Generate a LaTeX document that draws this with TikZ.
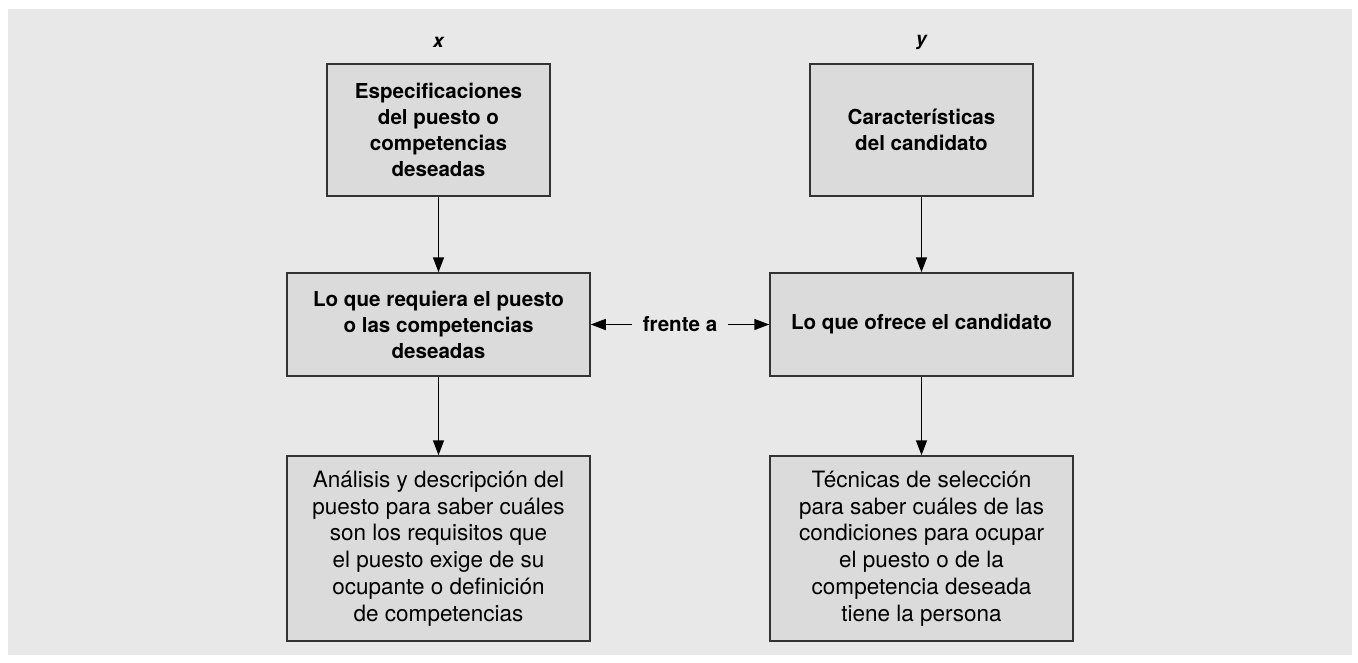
\documentclass[tikz,border=0pt]{standalone}
\usepackage{fontspec}
\setmainfont{TeX Gyre Heros}
\usetikzlibrary{arrows.meta}
\definecolor{panel}{HTML}{E8E8E8}
\definecolor{boxfill}{HTML}{DBDBDB}
\definecolor{boxline}{HTML}{333333}
\tikzset{
  box/.style={draw=boxline, fill=boxfill, line width=1.5pt, align=center, inner sep=0pt},
  boldtxt/.style={font=\fontsize{20.6}{26}\selectfont\bfseries},
  regtxt/.style={font=\fontsize{22.5}{26.7}\selectfont},
  arr/.style={line width=1.5pt, -{Triangle[length=15pt,width=11pt]}},
  varlabel/.style={font=\fontsize{19}{22}\selectfont\bfseries\itshape},
}
\begin{document}
\begin{tikzpicture}[x=1pt,y=-1pt]
\useasboundingbox (0,0) rectangle (1358,662);
\fill[white] (0,0) rectangle (1358,662);
\fill[panel] (8,9) rectangle (1352,655);

\node[varlabel] (lx) at (438.5,42) {x};
\node[varlabel] (ly) at (921.5,42) {y};

\node[box, boldtxt, minimum width=223pt, minimum height=132pt] (A) at (438.5,130)
  {Especificaciones\\del puesto o\\competencias\\deseadas};
\node[box, boldtxt, minimum width=223pt, minimum height=132pt] (B) at (921.5,130)
  {Características\\del candidato};
\node[box, boldtxt, minimum width=303pt, minimum height=103pt] (C) at (438.5,324.5)
  {Lo que requiera el puesto\\o las competencias\\deseadas};
\node[box, boldtxt, minimum width=303pt, minimum height=103pt] (D) at (921.5,324.5)
  {Lo que ofrece el candidato};
\node[box, regtxt, minimum width=303pt, minimum height=185pt] (E) at (438.5,548.5)
  {Análisis y descripción del\\puesto para saber cuáles\\son los requisitos que\\el puesto exige de su\\ocupante o definición\\de competencias};
\node[box, regtxt, minimum width=303pt, minimum height=185pt] (F) at (921.5,548.5)
  {Técnicas de selección\\para saber cuáles de las\\condiciones para ocupar\\el puesto o de la\\competencia deseada\\tiene la persona};

\node[boldtxt, inner xsep=11pt, inner ysep=0pt] (fr) at (680,324.5) {frente a};

\draw[arr] (A) -- (C);
\draw[arr] (C) -- (E);
\draw[arr] (B) -- (D);
\draw[arr] (D) -- (F);
\draw[arr] (fr.west) -- (C.east);
\draw[arr] (fr.east) -- (D.west);
\end{tikzpicture}
\end{document}
